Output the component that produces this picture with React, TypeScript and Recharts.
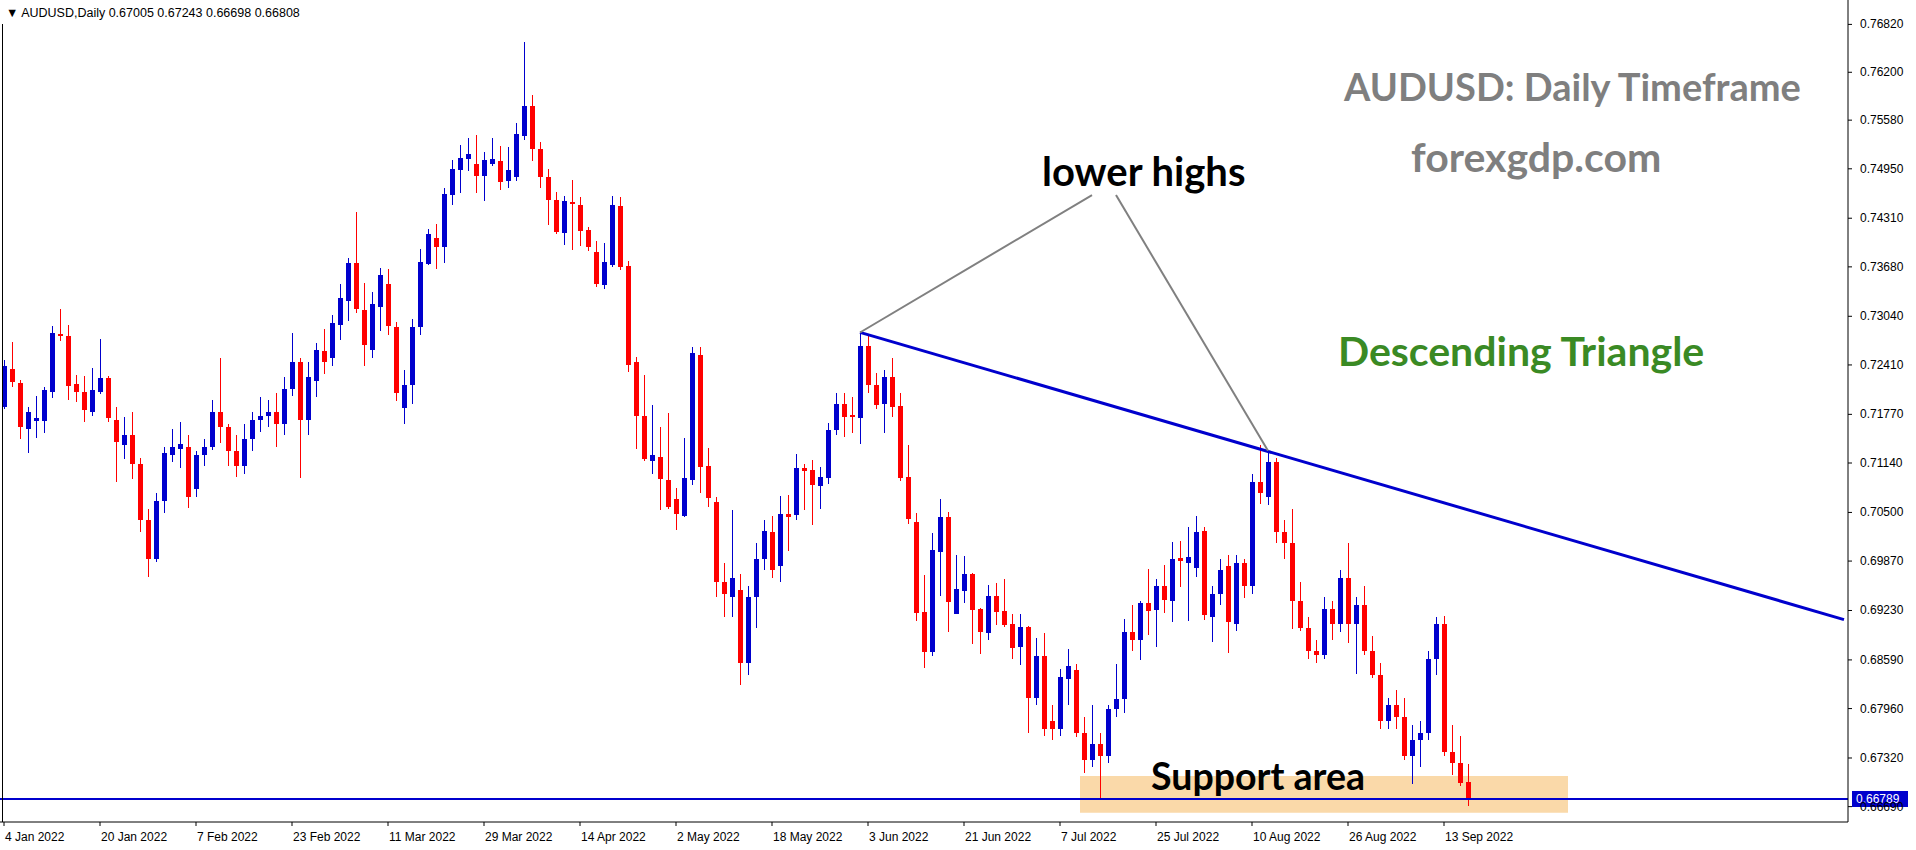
import React from 'react';
import { ComposedChart, Bar, XAxis, YAxis, ReferenceLine, ReferenceArea } from 'recharts';

// AUDUSD daily, 4 Jan 2022 .. 16 Sep 2022 (one entry per trading day)
const opens = [
  0.7186, 0.7236, 0.7217, 0.7158, 0.7168, 0.7168, 0.7206, 0.7281, 0.7278, 0.7216,
  0.7206, 0.7180, 0.7206, 0.7224, 0.7170, 0.7137, 0.7150, 0.7113, 0.7040, 0.6990,
  0.7065, 0.7124, 0.7132, 0.7135, 0.7080, 0.7124, 0.7135, 0.7180, 0.7160, 0.7130,
  0.7110, 0.7145, 0.7170, 0.7175, 0.7180, 0.7165, 0.7210, 0.7245, 0.7170, 0.7220,
  0.7259, 0.7250, 0.7293, 0.7324, 0.7373, 0.7312, 0.7260, 0.7316, 0.7346, 0.7290,
  0.7185, 0.7215, 0.7290, 0.7372, 0.7405, 0.7394, 0.7461, 0.7493, 0.7508, 0.7501,
  0.7486, 0.7501, 0.7505, 0.7479, 0.7484, 0.7537, 0.7576, 0.7520, 0.7485, 0.7455,
  0.7412, 0.7452, 0.7448, 0.7416, 0.7387, 0.7345, 0.7370, 0.7447, 0.7369, 0.7245,
  0.7175, 0.7117, 0.7122, 0.7092, 0.7067, 0.7045, 0.7092, 0.7254, 0.7110, 0.7063,
  0.6960, 0.6940, 0.6950, 0.6855, 0.6940, 0.6990, 0.7025, 0.6980, 0.7048, 0.7047,
  0.7108, 0.7105, 0.7084, 0.7095, 0.7157, 0.7190, 0.7176, 0.7172, 0.7265, 0.7215,
  0.7190, 0.7225, 0.7188, 0.7096, 0.7038, 0.6921, 0.6869, 0.6999, 0.7044, 0.6918,
  0.6948, 0.6970, 0.6925, 0.6894, 0.6942, 0.6922, 0.6905, 0.6876, 0.6902, 0.6810,
  0.6864, 0.6780, 0.6770, 0.6834, 0.6846, 0.6765, 0.6730, 0.6750, 0.6735, 0.6795,
  0.6808, 0.6895, 0.6885, 0.6933, 0.6924, 0.6955, 0.6935, 0.6991, 0.6985, 0.6978,
  0.7026, 0.6915, 0.6945, 0.6980, 0.6905, 0.6985, 0.6955, 0.7090, 0.7070, 0.7115,
  0.7025, 0.7010, 0.6935, 0.6900, 0.6870, 0.6865, 0.6925, 0.6905, 0.6965, 0.6905,
  0.6930, 0.6870, 0.6840, 0.6780, 0.6800, 0.6785, 0.6735, 0.6755, 0.6765, 0.6860,
  0.6905, 0.6740, 0.6725, 0.67005,
];
const highs = [
  0.7247, 0.7271, 0.7221, 0.7187, 0.7201, 0.7213, 0.7291, 0.7313, 0.7293, 0.7228,
  0.7227, 0.7237, 0.7275, 0.7227, 0.7187, 0.7174, 0.7180, 0.7121, 0.7055, 0.7075,
  0.7135, 0.7158, 0.7167, 0.7150, 0.7130, 0.7145, 0.7195, 0.7250, 0.7165, 0.7150,
  0.7165, 0.7180, 0.7200, 0.7195, 0.7205, 0.7225, 0.7282, 0.7250, 0.7245, 0.7270,
  0.7288, 0.7306, 0.7346, 0.7380, 0.7439, 0.7347, 0.7335, 0.7366, 0.7365, 0.7297,
  0.7235, 0.7300, 0.7391, 0.7417, 0.7423, 0.7470, 0.7506, 0.7526, 0.7535, 0.7539,
  0.7517, 0.7535, 0.7525, 0.7523, 0.7554, 0.7659, 0.7590, 0.7530, 0.7495, 0.7465,
  0.7460, 0.7480, 0.7458, 0.7420, 0.7401, 0.7399, 0.7460, 0.7458, 0.7376, 0.7251,
  0.7228, 0.7189, 0.7161, 0.7179, 0.7082, 0.7146, 0.7264, 0.7264, 0.7133, 0.7070,
  0.6985, 0.7053, 0.6970, 0.6955, 0.7010, 0.7040, 0.7045, 0.7071, 0.7073, 0.7126,
  0.7113, 0.7118, 0.7109, 0.7166, 0.7205, 0.7205, 0.7200, 0.7283, 0.7280, 0.7230,
  0.7235, 0.7250, 0.7205, 0.7137, 0.7049, 0.6969, 0.7023, 0.7067, 0.7051, 0.6995,
  0.6994, 0.6972, 0.6926, 0.6956, 0.6959, 0.6964, 0.6918, 0.6918, 0.6903, 0.6887,
  0.6894, 0.6800, 0.6847, 0.6873, 0.6854, 0.6785, 0.6800, 0.6765, 0.6800, 0.6854,
  0.6912, 0.6930, 0.6935, 0.6977, 0.6964, 0.6982, 0.7012, 0.7013, 0.7031, 0.7045,
  0.7031, 0.6955, 0.6990, 0.6995, 0.6995, 0.6990, 0.7100, 0.7137, 0.7130, 0.7120,
  0.7040, 0.7055, 0.6960, 0.6915, 0.6885, 0.6940, 0.6935, 0.6975, 0.7010, 0.6940,
  0.6955, 0.6890, 0.6855, 0.6810, 0.6820, 0.6810, 0.6775, 0.6780, 0.6870, 0.6915,
  0.6916, 0.6775, 0.6760, 0.67243,
];
const lows = [
  0.7183, 0.7213, 0.7144, 0.7127, 0.7147, 0.7153, 0.7198, 0.7271, 0.7196, 0.7193,
  0.7168, 0.7175, 0.7204, 0.7168, 0.7090, 0.7119, 0.7093, 0.7025, 0.6967, 0.6985,
  0.7050, 0.7115, 0.7108, 0.7055, 0.7070, 0.7110, 0.7130, 0.7140, 0.7110, 0.7095,
  0.7100, 0.7130, 0.7155, 0.7160, 0.7135, 0.7150, 0.7200, 0.7095, 0.7150, 0.7200,
  0.7230, 0.7240, 0.7273, 0.7298, 0.7308, 0.7240, 0.7250, 0.7285, 0.7280, 0.7195,
  0.7165, 0.7190, 0.7280, 0.7370, 0.7365, 0.7373, 0.7448, 0.7464, 0.7492, 0.7464,
  0.7453, 0.7499, 0.7468, 0.7470, 0.7479, 0.7532, 0.7505, 0.7470, 0.7423, 0.7411,
  0.7396, 0.7389, 0.7394, 0.7389, 0.7341, 0.7339, 0.7368, 0.7363, 0.7232, 0.7132,
  0.7117, 0.7099, 0.7053, 0.7055, 0.7027, 0.7044, 0.7085, 0.7075, 0.7056, 0.6940,
  0.6915, 0.6915, 0.6826, 0.6840, 0.6900, 0.6975, 0.6965, 0.6960, 0.7000, 0.7040,
  0.7054, 0.7034, 0.7054, 0.7087, 0.7150, 0.7148, 0.7153, 0.7139, 0.7205, 0.7184,
  0.7154, 0.7174, 0.7091, 0.7035, 0.6909, 0.6849, 0.6864, 0.6942, 0.6896, 0.6918,
  0.6933, 0.6880, 0.6867, 0.6885, 0.6905, 0.6902, 0.6860, 0.6852, 0.6765, 0.6800,
  0.6760, 0.6755, 0.6760, 0.6800, 0.6760, 0.6712, 0.6720, 0.6681, 0.6725, 0.6785,
  0.6790, 0.6871, 0.6858, 0.6891, 0.6876, 0.6920, 0.6909, 0.6953, 0.6909, 0.6966,
  0.6911, 0.6883, 0.6930, 0.6868, 0.6896, 0.6940, 0.6945, 0.7060, 0.7060, 0.7010,
  0.6990, 0.6899, 0.6896, 0.6860, 0.6855, 0.6860, 0.6885, 0.6895, 0.6880, 0.6840,
  0.6865, 0.6835, 0.6770, 0.6770, 0.6770, 0.6730, 0.6699, 0.6720, 0.6755, 0.6840,
  0.6735, 0.6710, 0.6695, 0.66698,
];
const closes = [
  0.7240, 0.7219, 0.7160, 0.7180, 0.7172, 0.7209, 0.7282, 0.7279, 0.7214, 0.7206,
  0.7182, 0.7209, 0.7224, 0.7172, 0.7141, 0.7150, 0.7113, 0.7040, 0.6990, 0.7065,
  0.7127, 0.7135, 0.7139, 0.7070, 0.7124, 0.7135, 0.7180, 0.7160, 0.7130, 0.7110,
  0.7145, 0.7170, 0.7175, 0.7180, 0.7165, 0.7210, 0.7245, 0.7170, 0.7225, 0.7260,
  0.7245, 0.7295, 0.7328, 0.7373, 0.7313, 0.7267, 0.7320, 0.7357, 0.7291, 0.7205,
  0.7215, 0.7290, 0.7374, 0.7411, 0.7394, 0.7462, 0.7495, 0.7509, 0.7514, 0.7486,
  0.7506, 0.7508, 0.7478, 0.7493, 0.7540, 0.7576, 0.7520, 0.7485, 0.7455, 0.7413,
  0.7453, 0.7449, 0.7414, 0.7394, 0.7346, 0.7374, 0.7448, 0.7368, 0.7241, 0.7175,
  0.7119, 0.7124, 0.7093, 0.7057, 0.7048, 0.7095, 0.7256, 0.7109, 0.7069, 0.6960,
  0.6945, 0.6965, 0.6855, 0.6940, 0.6990, 0.7026, 0.6975, 0.7048, 0.7044, 0.7108,
  0.7104, 0.7086, 0.7096, 0.7157, 0.7190, 0.7174, 0.7173, 0.7265, 0.7215, 0.7189,
  0.7225, 0.7187, 0.7095, 0.7042, 0.6920, 0.6869, 0.7001, 0.7044, 0.6934, 0.6951,
  0.6970, 0.6924, 0.6895, 0.6942, 0.6921, 0.6904, 0.6874, 0.6902, 0.6810, 0.6864,
  0.6770, 0.6770, 0.6837, 0.6851, 0.6765, 0.6730, 0.6750, 0.6735, 0.6795, 0.6808,
  0.6895, 0.6885, 0.6933, 0.6922, 0.6955, 0.6937, 0.6990, 0.6987, 0.6992, 0.7025,
  0.6917, 0.6945, 0.6975, 0.6908, 0.6985, 0.6955, 0.7090, 0.7075, 0.7115, 0.7025,
  0.7010, 0.6935, 0.6900, 0.6870, 0.6865, 0.6925, 0.6905, 0.6965, 0.6905, 0.6930,
  0.6870, 0.6840, 0.6780, 0.6800, 0.6785, 0.6735, 0.6755, 0.6765, 0.6860, 0.6905,
  0.6740, 0.6725, 0.6700, 0.66808,
];

// bottom axis: one label every 12 bars
const dateTickIndex = [0, 12, 24, 36, 48, 60, 72, 84, 96, 108, 120, 132, 144, 156, 168, 180];
const dateTickLabels = [
  '4 Jan 2022', '20 Jan 2022', '7 Feb 2022', '23 Feb 2022', '11 Mar 2022', '29 Mar 2022',
  '14 Apr 2022', '2 May 2022', '18 May 2022', '3 Jun 2022', '21 Jun 2022', '7 Jul 2022',
  '25 Jul 2022', '10 Aug 2022', '26 Aug 2022', '13 Sep 2022',
];
const priceTicks = [
  0.7682, 0.762, 0.7558, 0.7495, 0.7431, 0.7368, 0.7304, 0.7241, 0.7177,
  0.7114, 0.705, 0.6987, 0.6923, 0.6859, 0.6796, 0.6732, 0.6669,
];

const supportLevel = 0.66789;
const triangleTop = [{ i: 107, p: 0.72832 }, { i: 230, p: 0.69112 }];
const pointerLeft = { i: 136, p: 0.7461 };
const pointerRight = { i: 139, p: 0.7461 };
const lowerHighs = [{ i: 107, p: 0.7283 }, { i: 158, p: 0.7130 }];
const supportBox = { i1: 135, i2: 195, p1: 0.6661, p2: 0.67087 };

const SLOTS = 231;
const Y_MIN = 0.66491;
const Y_MAX = 0.77136;
const BLUE = '#0000cd';
const RED = '#ff0000';

const rows = Array.from({ length: SLOTS }, (_, i) =>
  i < opens.length
    ? { i, range: [lows[i], highs[i]], o: opens[i], h: highs[i], l: lows[i], c: closes[i] }
    : { i, range: null }
);

const Candle = (props: any) => {
  const { x, y, width, height, payload } = props;
  if (!payload || payload.o == null) return null;
  const { o, h, l, c } = payload;
  const top = Math.min(y, y + height);
  const span = Math.abs(height);
  const py = (v: number) => top + ((h - v) / (h - l || 1)) * span;
  const cx = Math.floor(x + width / 2);
  const color = c >= o ? BLUE : RED;
  const b1 = Math.round(py(Math.max(o, c)));
  const b2 = Math.round(py(Math.min(o, c)));
  return (
    <g>
      <rect x={cx} y={Math.round(top)} width={1} height={Math.max(1, Math.round(span))} fill={color} />
      <rect x={cx - 2} y={b1} width={5} height={Math.max(2, b2 - b1)} fill={color} />
    </g>
  );
};

const DateTick = (props: any) => {
  const { x, y, payload } = props;
  const k = dateTickIndex.indexOf(payload.value);
  return (
    <g>
      <line x1={x} x2={x} y1={y - 8} y2={y - 4} stroke="#000" />
      <text x={x + 1} y={y + 11} fontSize={12} fontFamily="Liberation Sans, Arial, sans-serif" fill="#000">
        {k >= 0 ? dateTickLabels[k] : ''}
      </text>
    </g>
  );
};

const PriceTick = (props: any) => {
  const { x, y, payload } = props;
  return (
    <g>
      <line x1={x - 8} x2={x - 4} y1={y} y2={y} stroke="#000" />
      <text x={x + 4} y={y + 4} fontSize={12} fontFamily="Liberation Sans, Arial, sans-serif" fill="#000">
        {Number(payload.value).toFixed(5)}
      </text>
    </g>
  );
};

const PriceBox = (props: any) => {
  const { viewBox } = props;
  if (!viewBox) return null;
  const bx = viewBox.x + viewBox.width + 4;
  const by = viewBox.y;
  return (
    <g>
      <rect x={bx} y={by - 8} width={56} height={16} fill={BLUE} />
      <text x={bx + 4} y={by + 4} fontSize={12} fontFamily="Liberation Sans, Arial, sans-serif" fill="#fff">
        {supportLevel.toFixed(5)}
      </text>
    </g>
  );
};

const note = (extra: React.CSSProperties): React.CSSProperties => ({
  position: 'absolute',
  fontFamily: 'Lato, "Open Sans", sans-serif',
  fontWeight: 700,
  lineHeight: 1,
  whiteSpace: 'nowrap',
  ...extra,
});

export default function App() {
  return (
    <div style={{ position: 'relative', width: 1916, height: 850, background: '#fff', overflow: 'hidden' }}>
      <style>{'body{margin:0}'}</style>
      <ComposedChart width={1916} height={850} data={rows} margin={{ top: 0, right: 0, bottom: 0, left: 0 }}>
        <XAxis
          dataKey="i" type="category" ticks={dateTickIndex} interval={0} height={28}
          axisLine={{ stroke: '#000' }} tickLine={false} tick={DateTick}
        />
        <YAxis
          orientation="right" type="number" domain={[Y_MIN, Y_MAX]} ticks={priceTicks} width={68}
          allowDataOverflow axisLine={{ stroke: '#000' }} tickLine={false} tick={PriceTick}
        />
        <ReferenceArea
          x1={supportBox.i1} x2={supportBox.i2} y1={supportBox.p1} y2={supportBox.p2}
          fill="#fad9a9" fillOpacity={1} stroke="none"
        />
        <Bar dataKey="range" barSize={5} shape={Candle} isAnimationActive={false} />
        <ReferenceLine y={supportLevel} stroke={BLUE} strokeWidth={2} label={PriceBox} />
        <ReferenceLine
          segment={[{ x: triangleTop[0].i, y: triangleTop[0].p }, { x: triangleTop[1].i, y: triangleTop[1].p }]}
          stroke={BLUE} strokeWidth={3}
        />
        <ReferenceLine
          segment={[{ x: pointerLeft.i, y: pointerLeft.p }, { x: lowerHighs[0].i, y: lowerHighs[0].p }]}
          stroke="#808080" strokeWidth={2}
        />
        <ReferenceLine
          segment={[{ x: pointerRight.i, y: pointerRight.p }, { x: lowerHighs[1].i, y: lowerHighs[1].p }]}
          stroke="#808080" strokeWidth={2}
        />
      </ComposedChart>
      <div style={{ position: 'absolute', left: 2, top: 24, width: 1, height: 798, background: '#000' }} />
      <div style={{ position: 'absolute', left: 6, top: 6, fontFamily: 'Liberation Sans, Arial, sans-serif', fontSize: 12.5, color: '#000' }}>
        {'\u25BC AUDUSD,Daily  0.67005 0.67243 0.66698 0.66808'}
      </div>
      <div style={note({ left: 1344, top: 67, fontSize: 38, color: '#7f7f7f' })}>AUDUSD: Daily Timeframe</div>
      <div style={note({ left: 1411, top: 136, fontSize: 41, color: '#7f7f7f' })}>forexgdp.com</div>
      <div style={note({ left: 1042, top: 151, fontSize: 40, color: '#000' })}>lower highs</div>
      <div style={note({ left: 1338, top: 330, fontSize: 41, color: '#3a8a24' })}>Descending Triangle</div>
      <div style={note({ left: 1151, top: 757, fontSize: 37.5, color: '#000' })}>Support area</div>
    </div>
  );
}
